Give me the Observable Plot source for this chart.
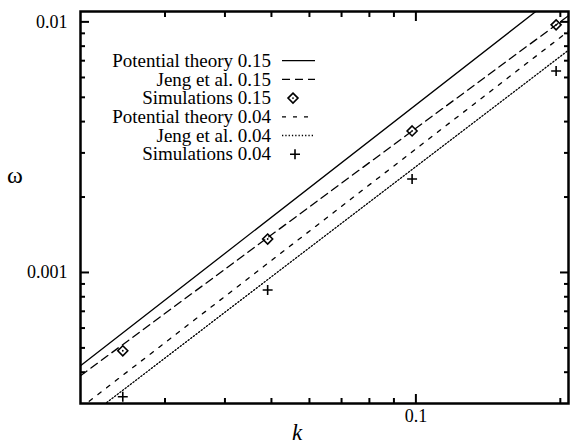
<!DOCTYPE html>
<html>
<head>
<meta charset="utf-8">
<script src="https://cdn.jsdelivr.net/npm/d3@7"></script>
<script src="https://cdn.jsdelivr.net/npm/@observablehq/plot@0.6"></script>
<style>
  html, body { margin: 0; padding: 0; background: #fff; }
  #chart { width: 573px; height: 446px; }
  #chart svg, #chart svg text { font-family: "Liberation Serif", "Times New Roman", Times, "DejaVu Serif", serif !important; }
</style>
</head>
<body>
<div id="chart"></div>
<script>
// Dispersion of capillary waves: frequency ω against wavenumber k (log–log)

// Theory curves, given at the ends of the k range
const kEnds = [0.02, 0.21];
const potential015 = [0.000424, 0.0141];
const jeng015 = [0.000387, 0.01073];
const potential004 = [0.000288, 0.00932];
const jeng004 = [0.000252, 0.00782];

// Simulation results
const kSim = [0.0245, 0.0491, 0.0982, 0.196];
const sim015 = [0.000487, 0.00136, 0.00367, 0.00973];
const sim004 = [0.000319, 0.000851, 0.00236, 0.00637];

// Axis ticks
const xMajor = [0.1];
const xMinor = [0.03, 0.04, 0.05, 0.06, 0.07, 0.08, 0.09, 0.2];
const yMajor = [0.001, 0.01];
const yMinor = [0.0004, 0.0005, 0.0006, 0.0007, 0.0008, 0.0009,
                0.002, 0.003, 0.004, 0.005, 0.006, 0.007, 0.008, 0.009];

// Legend entries
const legendLabels = [
  "Potential theory 0.15", "Jeng et al. 0.15", "Simulations 0.15",
  "Potential theory 0.04", "Jeng et al. 0.04", "Simulations 0.04"
];

const toRows = (ks, ws) => ks.map((k, i) => ({k, w: ws[i]}));

const lineStyles = [
  {rows: toRows(kEnds, potential015), dash: null},
  {rows: toRows(kEnds, jeng015), dash: "8,5"},
  {rows: toRows(kEnds, potential004), dash: "4,7"},
  {rows: toRows(kEnds, jeng004), dash: "1.3,2"}
];

const sim015Rows = toRows(kSim, sim015);
const sim004Rows = toRows(kSim, sim004);

const font = '"Liberation Serif", "Times New Roman", Times, "DejaVu Serif", serif';

const tickAxes = [];
for (const anchor of ["bottom", "top"]) {
  tickAxes.push(Plot.axisX(xMajor, {anchor, tickSize: -9, fill: "none", strokeWidth: 2, label: null}));
  tickAxes.push(Plot.axisX(xMinor, {anchor, tickSize: -5, fill: "none", strokeWidth: 2, label: null}));
}
for (const anchor of ["left", "right"]) {
  tickAxes.push(Plot.axisY(yMajor, {anchor, tickSize: -9, fill: "none", strokeWidth: 2, label: null}));
  tickAxes.push(Plot.axisY(yMinor, {anchor, tickSize: -5, fill: "none", strokeWidth: 2, label: null}));
}

const chart = Plot.plot({
  width: 573,
  height: 446,
  marginLeft: 80,
  marginRight: 5,
  marginTop: 11,
  marginBottom: 43,
  style: {fontFamily: font, fontSize: "18px", background: "#fff", color: "#000"},
  x: {type: "log", domain: [0.02, 0.208]},
  y: {type: "log", domain: [0.0003, 0.011]},
  marks: [
    ...lineStyles.map(s => Plot.line(s.rows, {
      x: "k", y: "w", stroke: "black", strokeWidth: 1.3,
      strokeDasharray: s.dash, clip: true
    })),
    Plot.dot(sim015Rows, {x: "k", y: "w", symbol: "diamond2", r: 4.5, stroke: "black", strokeWidth: 1.6, fill: "none"}),
    Plot.dot(sim015Rows, {x: "k", y: "w", r: 0.9, fill: "black"}),
    Plot.dot(sim004Rows, {x: "k", y: "w", symbol: "plus", r: 3.3, stroke: "black", strokeWidth: 1.6}),
    ...tickAxes,
    Plot.axisX(xMajor, {anchor: "bottom", tickSize: 0, tickPadding: 6, tickFormat: d => String(d), label: null, fontSize: 18}),
    Plot.axisY(yMajor, {anchor: "left", tickSize: 0, tickPadding: 13, tickFormat: d => String(d), label: null, fontSize: 18}),
    Plot.frame({stroke: "black", strokeWidth: 2.5})
  ]
});

document.getElementById("chart").appendChild(chart);

// Axis titles and legend
const svg = d3.select(chart);

svg.append("text")
  .attr("x", 297).attr("y", 440)
  .attr("text-anchor", "middle")
  .style("font-size", "23px").style("font-style", "italic")
  .text("k");

svg.append("text")
  .attr("x", 15).attr("y", 183)
  .style("font-size", "24px")
  .text("ω");

const legend = svg.append("g").style("font-size", "19px");
const rowY = i => 60.7 + i * 18.7;
legendLabels.forEach((label, i) => {
  legend.append("text")
    .attr("x", 271).attr("y", rowY(i))
    .attr("dy", "0.33em")
    .attr("text-anchor", "end")
    .text(label);
});
const sampleLine = (i, dash) => {
  const l = legend.append("line")
    .attr("x1", 282).attr("x2", 315)
    .attr("y1", rowY(i)).attr("y2", rowY(i))
    .attr("stroke", "black").attr("stroke-width", 1.3);
  if (dash) l.attr("stroke-dasharray", dash);
};
sampleLine(0, null);
sampleLine(1, "8,5");
sampleLine(3, "4,7");
sampleLine(4, "1.3,2");
const dx = 293, py = rowY(2);
legend.append("path")
  .attr("d", `M${dx},${py - 5}L${dx + 5},${py}L${dx},${py + 5}L${dx - 5},${py}Z`)
  .attr("fill", "none").attr("stroke", "black").attr("stroke-width", 1.6);
legend.append("circle").attr("cx", dx).attr("cy", py).attr("r", 0.9).attr("fill", "black");
const px = 295, ppy = rowY(5);
legend.append("path")
  .attr("d", `M${px - 5},${ppy}H${px + 5}M${px},${ppy - 5}V${ppy + 5}`)
  .attr("stroke", "black").attr("stroke-width", 1.6);
</script>
</body>
</html>
